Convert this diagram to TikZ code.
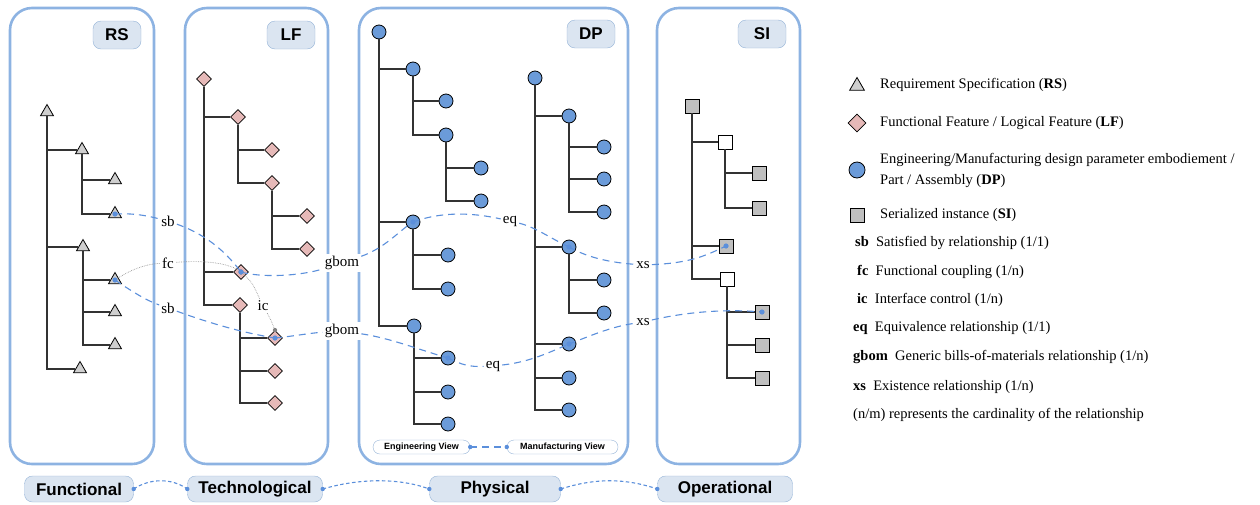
\documentclass[tikz,border=0pt]{standalone}
\usepackage{fontspec}
\setmainfont{Liberation Serif}
\setsansfont{Liberation Sans}
\usetikzlibrary{shapes.geometric}
\definecolor{panelblue}{HTML}{8DB3E2}
\definecolor{tagfill}{HTML}{DBE5F1}
\definecolor{tagborder}{HTML}{95B3D7}
\definecolor{trigray}{HTML}{CFCFCF}
\definecolor{sqgray}{HTML}{BFBFBF}
\definecolor{pinkfill}{HTML}{E6B9B8}
\definecolor{circblue}{HTML}{6B9BD9}
\definecolor{relblue}{HTML}{5B8FDB}
\definecolor{treeline}{HTML}{333333}
\tikzset{
  panel/.style={draw=panelblue, line width=2.6pt, rounded corners=22pt},
  tag/.style={draw=tagborder, fill=tagfill, rounded corners=8pt, font=\sffamily\bfseries\fontsize{17}{17}\selectfont, minimum width=48pt, minimum height=28pt, inner sep=0pt},
  btag/.style={draw=tagborder, fill=tagfill, rounded corners=8pt, font=\sffamily\bfseries\fontsize{17}{17}\selectfont, minimum height=26pt, inner sep=0pt},
  vtag/.style={draw=tagborder, fill=white, rounded corners=7pt, font=\sffamily\bfseries\fontsize{9}{9}\selectfont, minimum height=14pt, inner sep=0pt},
  tri/.style={regular polygon, regular polygon sides=3, draw=black, fill=trigray, minimum size=15pt, inner sep=0pt, line width=0.8pt},
  dia/.style={diamond, draw=black, fill=pinkfill, minimum width=15pt, minimum height=15pt, inner sep=0pt, line width=0.8pt},
  circ/.style={circle, draw=black, fill=circblue, minimum size=14pt, inner sep=0pt, line width=0.8pt},
  sq/.style={rectangle, draw=black, fill=sqgray, minimum size=14pt, inner sep=0pt, line width=0.8pt},
  wsq/.style={rectangle, draw=black, fill=white, minimum size=14pt, inner sep=0pt, line width=0.8pt},
  tree/.style={draw=treeline, line width=1.1pt},
  rel/.style={draw=relblue, line width=1.1pt, dash pattern=on 7pt off 5pt},
  bot/.style={draw=relblue, line width=1.1pt, dash pattern=on 3.5pt off 2.5pt},
  gdot/.style={draw=gray!80, line width=0.7pt, densely dotted},
  tlabel/.style={fill=white, font=\fontsize{15}{15}\selectfont, inner sep=2pt},
  legtext/.style={anchor=west, font=\fontsize{14.5}{21}\selectfont, inner sep=0pt, align=left}
}
\begin{document}
\begin{tikzpicture}[x=1pt,y=-1pt]
\path[use as bounding box] (0,0) rectangle (1260,504);

% panels
\draw[panel] (10,8) rectangle (154,464);
\draw[panel] (185,8) rectangle (328,464);
\draw[panel] (359,8) rectangle (628,464);
\draw[panel] (657,8) rectangle (800,464);
\node[tag] (tRS) at (117,35) {RS};
\node[tag] (tLF) at (291,35) {LF};
\node[tag] (tDP) at (591,34) {DP};
\node[tag] (tSI) at (762,34) {SI};

% bottom tags
\node[btag, minimum width=109pt] (func) at (79,489) {Functional};
\node[btag, minimum width=135pt] (tech) at (255,489) {Technological};
\node[btag, minimum width=131pt] (phys) at (495,489) {Physical};
\node[btag, minimum width=135pt] (oper) at (725,489) {Operational};

% RS tree
\node[tri] (r0) at (47,112) {};
\node[tri] (r1) at (82,150) {};
\node[tri] (r11) at (115,180) {};
\node[tri] (r12) at (115,214) {};
\node[tri] (r2) at (83,247) {};
\node[tri] (r21) at (115,280) {};
\node[tri] (r22) at (115,312) {};
\node[tri] (r23) at (115,345) {};
\node[tri] (r3) at (80,369) {};
\draw[tree] (r0) |- (r1); \draw[tree] (r0) |- (r2); \draw[tree] (r0) |- (r3);
\draw[tree] (r1) |- (r11); \draw[tree] (r1) |- (r12);
\draw[tree] (r2) |- (r21); \draw[tree] (r2) |- (r22); \draw[tree] (r2) |- (r23);

% LF tree
\node[dia] (l0) at (204,79) {};
\node[dia] (l1) at (238,117) {};
\node[dia] (l11) at (272,150) {};
\node[dia] (l12) at (272,183) {};
\node[dia] (l121) at (307,216) {};
\node[dia] (l122) at (307,249) {};
\node[dia] (l2) at (241,272) {};
\node[dia] (l3) at (240,305) {};
\node[dia] (l31) at (275,338) {};
\node[dia] (l32) at (275,371) {};
\node[dia] (l33) at (275,403) {};
\draw[tree] (l0) |- (l1); \draw[tree] (l0) |- (l2); \draw[tree] (l0) |- (l3);
\draw[tree] (l1) |- (l11); \draw[tree] (l1) |- (l12);
\draw[tree] (l12) |- (l121); \draw[tree] (l12) |- (l122);
\draw[tree] (l3) |- (l31); \draw[tree] (l3) |- (l32); \draw[tree] (l3) |- (l33);

% DP left tree
\node[circ] (d0) at (379,32) {};
\node[circ] (d1) at (413,69) {};
\node[circ] (d11) at (446,101) {};
\node[circ] (d12) at (446,135) {};
\node[circ] (d121) at (481,168) {};
\node[circ] (d122) at (481,201) {};
\node[circ] (d2) at (413,222) {};
\node[circ] (d21) at (448,255) {};
\node[circ] (d22) at (448,289) {};
\node[circ] (d3) at (414,326) {};
\node[circ] (d31) at (448,358) {};
\node[circ] (d32) at (448,392) {};
\node[circ] (d33) at (448,424) {};
\draw[tree] (d0) |- (d1); \draw[tree] (d0) |- (d2); \draw[tree] (d0) |- (d3);
\draw[tree] (d1) |- (d11); \draw[tree] (d1) |- (d12);
\draw[tree] (d12) |- (d121); \draw[tree] (d12) |- (d122);
\draw[tree] (d2) |- (d21); \draw[tree] (d2) |- (d22);
\draw[tree] (d3) |- (d31); \draw[tree] (d3) |- (d32); \draw[tree] (d3) |- (d33);

% DP right tree
\node[circ] (e0) at (535,78) {};
\node[circ] (e1) at (569,116) {};
\node[circ] (e11) at (604,147) {};
\node[circ] (e12) at (604,179) {};
\node[circ] (e13) at (604,212) {};
\node[circ] (e2) at (569,247) {};
\node[circ] (e21) at (604,280) {};
\node[circ] (e22) at (604,313) {};
\node[circ] (e3) at (569,344) {};
\node[circ] (e4) at (569,378) {};
\node[circ] (e5) at (569,410) {};
\draw[tree] (e0) |- (e1); \draw[tree] (e0) |- (e2); \draw[tree] (e0) |- (e3);
\draw[tree] (e0) |- (e4); \draw[tree] (e0) |- (e5);
\draw[tree] (e1) |- (e11); \draw[tree] (e1) |- (e12); \draw[tree] (e1) |- (e13);
\draw[tree] (e2) |- (e21); \draw[tree] (e2) |- (e22);

% SI tree
\node[sq] (s0) at (692,106) {};
\node[wsq] (s1) at (725,142) {};
\node[sq] (s11) at (759,173) {};
\node[sq] (s12) at (759,208) {};
\node[sq] (s2) at (726,246) {};
\node[wsq] (s3) at (727,279) {};
\node[sq] (s31) at (762,312) {};
\node[sq] (s32) at (762,345) {};
\node[sq] (s33) at (762,378) {};
\draw[tree] (s0) |- (s1); \draw[tree] (s0) |- (s2); \draw[tree] (s0) |- (s3);
\draw[tree] (s1) |- (s11); \draw[tree] (s1) |- (s12);
\draw[tree] (s3) |- (s31); \draw[tree] (s3) |- (s32); \draw[tree] (s3) |- (s33);

% view tags
\node[vtag, minimum width=97pt] (ev) at (421.5,447) {Engineering View};
\node[vtag, minimum width=111pt] (mv) at (562.5,447) {Manufacturing View};

% relationship labels
\node[tlabel] (sb1) at (168,221) {sb};
\node[tlabel] (fc) at (168,263) {fc};
\node[tlabel] (sb2) at (168,308) {sb};
\node[tlabel] (ic) at (263,306) {ic};
\node[tlabel] (gb1) at (342,263) {gbom};
\node[tlabel] (gb2) at (342,331) {gbom};
\node[tlabel] (eq1) at (510,221) {eq};
\node[tlabel] (eq2) at (493,366) {eq};
\node[tlabel] (xs1) at (643,265) {xs};
\node[tlabel] (xs2) at (643,322) {xs};

% connectors
\draw[gdot] (r21.center) .. controls (130,270) and (145,264) .. (fc);
\draw[gdot] (fc) .. controls (205,260) and (230,263) .. (l2.center);
\draw[gdot] (l2.center) .. controls (252,282) .. (ic);
\draw[gdot] (ic) .. controls (270,318) .. (l31.north);
\fill[gray] (l2.center) circle (2.6pt);
\fill[gray] (l31.north) circle (2.2pt);

\draw[rel] (r12.center) .. controls (135,213) and (148,216) .. (sb1);
\draw[rel] (sb1) .. controls (210,236) and (228,255) .. (l2.center);
\draw[rel] (r21.center) .. controls (130,290) and (145,300) .. (sb2);
\draw[rel] (sb2) .. controls (215,325) and (245,333) .. (l31.center);
\draw[rel] (l2.center) .. controls (262,278) and (300,276) .. (gb1);
\draw[rel] (gb1) .. controls (385,248) and (400,230) .. (d2.center);
\draw[rel] (l31.center) .. controls (295,336) and (310,333) .. (gb2);
\draw[rel] (gb2) .. controls (390,338) and (420,350) .. (d31.center);
\draw[rel] (d2.center) .. controls (440,212) and (470,212) .. (eq1);
\draw[rel] (eq1) .. controls (535,227) and (550,238) .. (e2.center);
\draw[rel] (e2.center) .. controls (585,256) and (605,262) .. (xs1);
\draw[rel] (xs1) .. controls (690,263) and (705,256) .. (s2.center);
\draw[rel] (d31.center) .. controls (462,365) and (470,367) .. (eq2);
\draw[rel] (eq2) .. controls (530,362) and (550,352) .. (e3.center);
\draw[rel] (e3.center) .. controls (590,336) and (610,327) .. (xs2);
\draw[rel] (xs2) .. controls (700,309) and (740,310) .. (s31.center);
\foreach \n in {r12,r21,l2,l31,d2,d31,e2,e3,s2,s31}
  \fill[relblue] (\n.center) circle (2.6pt);

\draw[rel] (ev.east) -- (mv.west);
\fill[relblue] (ev.east) circle (2.2pt);
\fill[relblue] (mv.west) circle (2.2pt);

% bottom connectors
\draw[bot] (func.east) .. controls (150,478) and (172,478) .. (tech.west);
\draw[bot] (tech.east) .. controls (360,478) and (400,478) .. (phys.west);
\draw[bot] (phys.east) .. controls (595,478) and (625,478) .. (oper.west);
\foreach \n in {func.east,tech.west,tech.east,phys.west,phys.east,oper.west}
  \fill[relblue] (\n) circle (2.2pt);

% legend
\node[tri, minimum size=17pt] (k1) at (857,86) {};
\node[legtext] (k1t) at (880,85) {Requirement Specification (\textbf{RS})};
\node[dia, minimum width=18pt, minimum height=18pt] (k2) at (857,123) {};
\node[legtext] (k2t) at (880,123) {Functional Feature / Logical Feature (\textbf{LF})};
\node[circ, minimum size=16pt] (k3) at (857,170) {};
\node[legtext] (k3t) at (880,170) {Engineering/Manufacturing design parameter embodiement /\\Part / Assembly (\textbf{DP})};
\node[sq, minimum size=14pt] (k4) at (857,215) {};
\node[legtext] (k4t) at (880,215) {Serialized instance (\textbf{SI})};

\node[legtext] (m1) at (855,243) {\textbf{sb}\ \ Satisfied by relationship (1/1)};
\node[legtext] (m2) at (857,272) {\textbf{fc}\ \ Functional coupling (1/n)};
\node[legtext] (m3) at (857,300) {\textbf{ic}\ \ Interface control (1/n)};
\node[legtext] (m4) at (853,328) {\textbf{eq}\ \ Equivalence relationship (1/1)};
\node[legtext] (m5) at (853,357) {\textbf{gbom}\ \ Generic bills-of-materials relationship (1/n)};
\node[legtext] (m6) at (853,387) {\textbf{xs}\ \ Existence relationship (1/n)};
\node[legtext] (m7) at (853,415) {(n/m) represents the cardinality of the relationship};
\end{tikzpicture}
\end{document}
